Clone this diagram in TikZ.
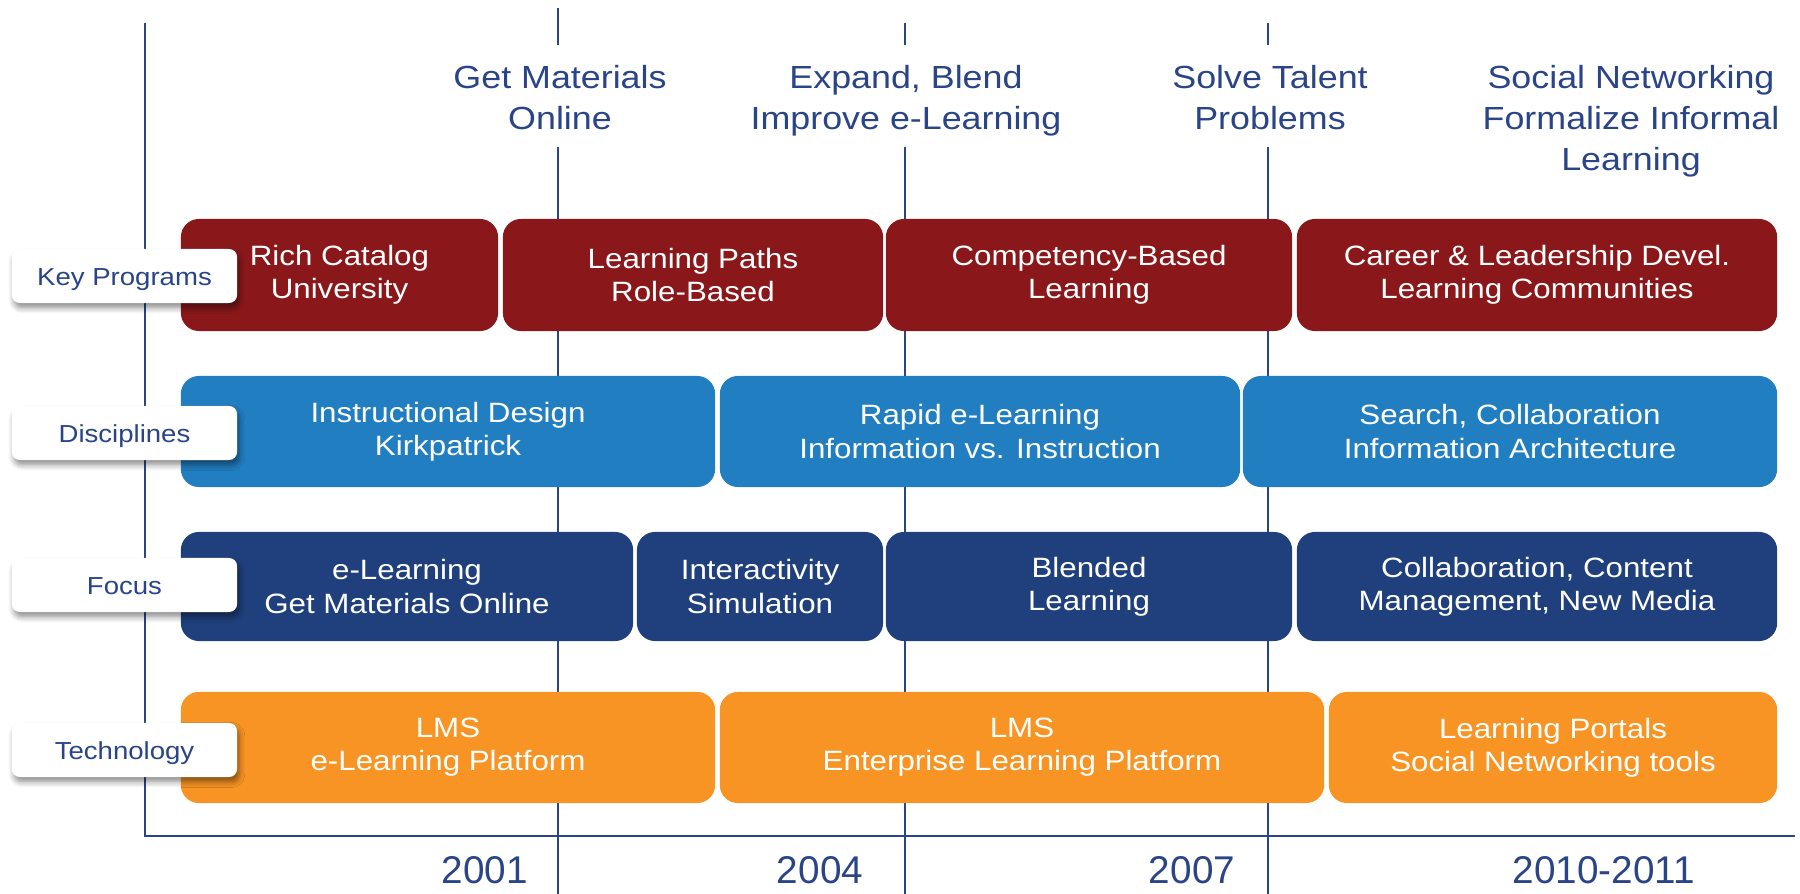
\documentclass[tikz,border=0pt]{standalone}
\usepackage{fontspec}
\setmainfont{Liberation Sans}
\newfontfamily\widesans{Liberation Sans}[FakeStretch=1.12]
\usetikzlibrary{shadows.blur}
\definecolor{progred}{RGB}{138,24,27}
\definecolor{discblue}{RGB}{33,126,193}
\definecolor{focusnavy}{RGB}{31,64,125}
\definecolor{techorange}{RGB}{247,148,35}
\definecolor{inkblue}{RGB}{42,68,136}

\begin{document}
\begin{tikzpicture}[x=0.01cm,y=-0.01cm]
    \tikzstyle{every node}+=[inner sep=0pt]
    \tikzstyle{era}=[draw=inkblue, line width=0.5pt]
    \tikzstyle{axis}=[draw=inkblue, line width=0.7pt]
    \tikzstyle{goal}=[text=inkblue, align=center, anchor=north, font=\widesans\fontsize{9.1}{11.66}\selectfont]
    \tikzstyle{year}=[text=inkblue, font=\fontsize{11}{13}\selectfont]
    \tikzstyle{band}=[rounded corners=0.18cm, text=white, align=center, font=\widesans\fontsize{7.95}{9.4}\selectfont]
    \tikzstyle{rowtag}=[fill=white, rounded corners=0.08cm, minimum width=2.25cm, minimum height=0.54cm,
        text=inkblue, text height=0.72em, text depth=0.2em, font=\widesans\fontsize{7}{8}\selectfont,
        blur shadow={shadow xshift=0.6pt, shadow yshift=-1.4pt, shadow blur radius=1.6pt, shadow blur steps=6, shadow opacity=45}]
    \useasboundingbox (0,0) rectangle (1800,894);
    % timeline
    \foreach \x/\t in {558/8,905/23,1268/23}
        \draw[era] (\x,\t) -- (\x,45) (\x,147) -- (\x,894);
    \draw[axis] (145,23) -- (145,836) -- (1795,836);
    \node[goal] (g1) at (560,65) {Get Materials\\Online};
    \node[goal] (g2) at (906,65) {Expand, Blend\\Improve e-Learning};
    \node[goal] (g3) at (1270,65) {Solve Talent\\Problems};
    \node[goal] (g4) at (1631,65) {Social Networking\\Formalize Informal\\Learning};
    \node[year] (y1) at (485,870) {2001};
    \node[year] (y2) at (820,870) {2004};
    \node[year] (y3) at (1192,870) {2007};
    \node[year] (y4) at (1604,870) {2010-2011};
    % key programs
    \node[band, fill=progred, minimum width=3.17cm, minimum height=1.12cm] (kp1) at (339.5,275) {Rich Catalog\\University};
    \node[band, fill=progred, minimum width=3.80cm, minimum height=1.12cm] (kp2) at (693,275) {Learning Paths\\Role-Based};
    \node[band, fill=progred, minimum width=4.06cm, minimum height=1.12cm] (kp3) at (1089,275) {Competency-Based\\Learning};
    \node[band, fill=progred, minimum width=4.80cm, minimum height=1.12cm] (kp4) at (1537,275) {Career \& Leadership Devel.\\Learning Communities};
    % disciplines
    \node[band, fill=discblue, minimum width=5.34cm, minimum height=1.11cm] (di1) at (448,431.5) {Instructional Design\\Kirkpatrick};
    \node[band, fill=discblue, minimum width=5.20cm, minimum height=1.11cm] (di2) at (980,431.5) {Rapid e-Learning\\Information vs. Instruction};
    \node[band, fill=discblue, minimum width=5.34cm, minimum height=1.11cm] (di3) at (1510,431.5) {Search, Collaboration\\Information Architecture};
    % focus
    \node[band, fill=focusnavy, minimum width=4.52cm, minimum height=1.09cm] (fo1) at (407,586.5) {e-Learning\\Get Materials Online};
    \node[band, fill=focusnavy, minimum width=2.46cm, minimum height=1.09cm] (fo2) at (760,586.5) {Interactivity\\Simulation};
    \node[band, fill=focusnavy, minimum width=4.06cm, minimum height=1.09cm] (fo3) at (1089,586.5) {Blended\\Learning};
    \node[band, fill=focusnavy, minimum width=4.80cm, minimum height=1.09cm] (fo4) at (1537,586.5) {Collaboration, Content\\Management, New Media};
    % technology
    \node[band, fill=techorange, minimum width=5.34cm, minimum height=1.11cm] (te1) at (448,747.5) {LMS\\e-Learning Platform};
    \node[band, fill=techorange, minimum width=6.04cm, minimum height=1.11cm] (te2) at (1022,747.5) {LMS\\Enterprise Learning Platform};
    \node[band, fill=techorange, minimum width=4.48cm, minimum height=1.11cm] (te3) at (1553,747.5) {Learning Portals\\Social Networking tools};
    % row labels
    \node[rowtag] (t1) at (124.5,276) {Key Programs};
    \node[rowtag] (t2) at (124.5,433) {Disciplines};
    \node[rowtag] (t3) at (124.5,585) {Focus};
    \node[rowtag] (t4) at (124.5,750) {Technology};
\end{tikzpicture}
\end{document}
